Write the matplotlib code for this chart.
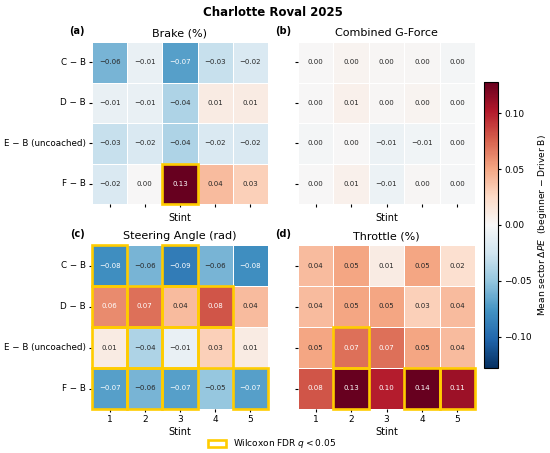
import numpy as np
import matplotlib
matplotlib.use("Agg")
import matplotlib.pyplot as plt
import seaborn as sns
from matplotlib.patches import Rectangle, Patch
from matplotlib.colors import Normalize
from matplotlib.cm import ScalarMappable

# rows = beginner minus Driver B, cols = stint 1..5
pairs = ["C \u2212 B", "D \u2212 B", "E \u2212 B (uncoached)", "F \u2212 B"]
stints = [1, 2, 3, 4, 5]

brake = [[-0.06, -0.01, -0.07, -0.03, -0.02],
         [-0.01, -0.01, -0.04, 0.01, 0.01],
         [-0.03, -0.02, -0.04, -0.02, -0.02],
         [-0.02, 0.00, 0.13, 0.04, 0.03]]
gforce = [[0.000, 0.003, 0.001, 0.001, -0.003],
          [0.000, 0.006, 0.001, 0.003, -0.001],
          [-0.003, 0.000, -0.008, -0.005, -0.002],
          [0.000, 0.006, -0.008, 0.001, -0.002]]
steering = [[-0.08, -0.06, -0.09, -0.06, -0.08],
            [0.06, 0.07, 0.04, 0.08, 0.04],
            [0.01, -0.04, -0.01, 0.03, 0.01],
            [-0.07, -0.06, -0.07, -0.05, -0.07]]
throttle = [[0.04, 0.05, 0.01, 0.05, 0.02],
            [0.04, 0.05, 0.05, 0.03, 0.04],
            [0.05, 0.07, 0.07, 0.05, 0.04],
            [0.08, 0.13, 0.10, 0.14, 0.11]]

# (row, col) cells with Wilcoxon FDR q < 0.05
sig_brake = [(3, 2)]
sig_gforce = []
sig_steering = [(0, 0), (0, 2),
                (1, 0), (1, 1), (1, 2), (1, 3),
                (2, 0), (2, 1), (2, 2), (2, 3),
                (3, 0), (3, 1), (3, 2), (3, 4)]
sig_throttle = [(2, 1), (3, 1), (3, 3), (3, 4)]

titles = ["Brake (%)", "Combined G-Force", "Steering Angle (rad)", "Throttle (%)"]
letters = ["(a)", "(b)", "(c)", "(d)"]
panels = [brake, gforce, steering, throttle]
sigs = [sig_brake, sig_gforce, sig_steering, sig_throttle]

vlim = 0.128
cmap = "RdBu_r"
gold = "#FFCC00"

W, H = 550, 453
fig = plt.figure(figsize=(W / 100, H / 100), dpi=100)

# pixel boxes (left, top, right, bottom)
boxes = [(92, 42, 268, 204), (298, 42, 475, 204),
         (92, 245, 268, 409), (298, 245, 475, 409)]


def fmt(v):
    s = "%.2f" % v
    if s.startswith("-"):
        if s == "-0.00":
            return "0.00"
        s = "\u2212" + s[1:]
    return s


for k in range(4):
    l, t, r, b = boxes[k]
    ax = fig.add_axes([l / W, 1 - b / H, (r - l) / W, (b - t) / H])
    vals = np.array(panels[k])
    labels = np.vectorize(fmt)(vals)
    sns.heatmap(vals, ax=ax, cmap=cmap, vmin=-vlim, vmax=vlim, cbar=False,
                annot=labels, fmt="", annot_kws={"fontsize": 5},
                linewidths=0.5, linecolor="white",
                xticklabels=stints, yticklabels=pairs)
    for (i, j) in sigs[k]:
        ax.add_patch(Rectangle((j, i), 1, 1, fill=False,
                               edgecolor=gold, lw=1.9, clip_on=False, zorder=5))
    ax.set_title(titles[k], fontsize=8, pad=4)
    ax.text(-0.085, 1.07, letters[k], transform=ax.transAxes, fontsize=7,
            fontweight="bold", ha="center", va="center")
    ax.set_xlabel("Stint", fontsize=7, labelpad=2)
    ax.tick_params(length=2.5, width=0.8, labelsize=6.5, pad=2)
    ax.set_yticklabels(pairs, rotation=0, fontsize=6.3)
    if k < 2:
        ax.set_xticklabels([])
    else:
        ax.set_xticklabels(stints, rotation=0)
    if k % 2 == 1:
        ax.set_yticklabels([])

cax = fig.add_axes([484 / W, 1 - 368 / H, 14 / W, 286 / H])
sm = ScalarMappable(norm=Normalize(-vlim, vlim), cmap=cmap)
cb = fig.colorbar(sm, cax=cax, ticks=[-0.10, -0.05, 0.0, 0.05, 0.10])
cb.ax.tick_params(labelsize=6.5, length=2.5, width=0.8, pad=2)
cb.set_label("Mean sector $\\Delta PE$  (beginner \u2212 Driver B)",
             fontsize=6.6, labelpad=3)
cb.outline.set_linewidth(0.8)

fig.text(0.497, 1 - 12 / H, "Charlotte Roval 2025", fontsize=8.5,
         fontweight="bold", ha="center", va="center")

handle = Patch(facecolor="white", edgecolor=gold, lw=1.9,
               label="Wilcoxon FDR $q < 0.05$")
fig.legend(handles=[handle], loc="center", bbox_to_anchor=(272 / W, 1 - 444 / H),
           frameon=False, fontsize=6.5, handlelength=2.0, handleheight=0.8)

fig.savefig("out.png", dpi=100)
